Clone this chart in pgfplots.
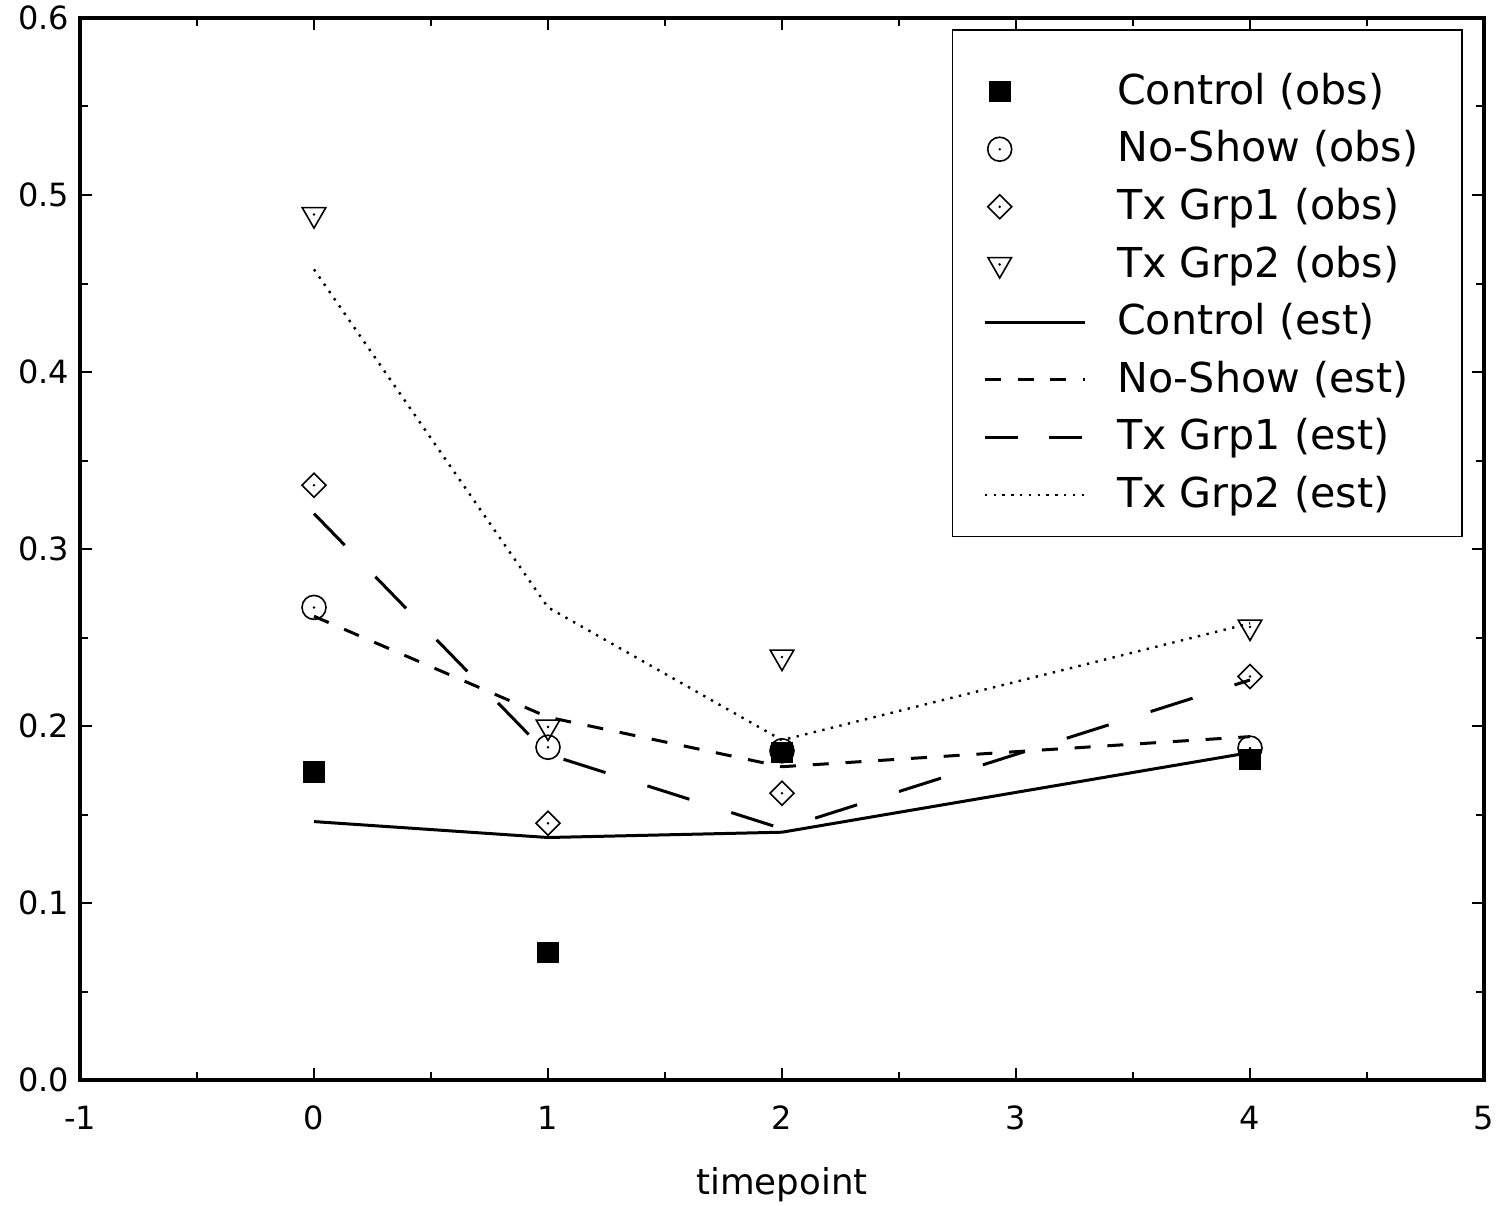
\documentclass[border=0pt]{standalone}
\usepackage{fontspec}
\setmainfont{DejaVu Sans}
\usepackage{pgfplots}
\pgfplotsset{compat=1.18}
\usepackage{pgfplotstable}

% observed proportions
\pgfplotstableread{
x    ctrl   noshow  grpone  grptwo
0    0.174  0.267   0.336   0.489
1    0.072  0.188   0.145   0.1995
2    0.185  0.186   0.162   0.239
4    0.181  0.1875  0.228   0.256
}\obs

% model estimates
\pgfplotstableread{
x    ctrl   noshow  grpone  grptwo
0    0.146  0.262   0.320   0.458
1    0.137  0.205   0.184   0.267
2    0.140  0.177   0.142   0.192
4    0.185  0.194   0.226   0.258
}\est

% open marks with a centre dot
\pgfdeclareplotmark{dcircle}{%
  \pgfpathcircle{\pgfpointorigin}{\pgfplotmarksize}\pgfusepathqstroke
  \pgfpathcircle{\pgfpointorigin}{0.35pt}\pgfusepathqfill}
\pgfdeclareplotmark{ddiamond}{%
  \pgfpathmoveto{\pgfqpoint{0pt}{\pgfplotmarksize}}%
  \pgfpathlineto{\pgfqpoint{\pgfplotmarksize}{0pt}}%
  \pgfpathlineto{\pgfqpoint{0pt}{-\pgfplotmarksize}}%
  \pgfpathlineto{\pgfqpoint{-\pgfplotmarksize}{0pt}}%
  \pgfpathclose\pgfusepathqstroke
  \pgfpathcircle{\pgfpointorigin}{0.35pt}\pgfusepathqfill}
\pgfdeclareplotmark{dtriangle}{%
  \pgfpathmoveto{\pgfqpoint{0pt}{-\pgfplotmarksize}}%
  \pgfpathlineto{\pgfqpoint{0.866\pgfplotmarksize}{0.5\pgfplotmarksize}}%
  \pgfpathlineto{\pgfqpoint{-0.866\pgfplotmarksize}{0.5\pgfplotmarksize}}%
  \pgfpathclose\pgfusepathqstroke
  \pgfpathcircle{\pgfpointorigin}{0.35pt}\pgfusepathqfill}

\pgfplotsset{
  obsleg/.style={legend image code/.code={%
    \draw[##1] plot coordinates {(3.75pt,0pt)}; \path (0pt,0pt) (25pt,0pt);}},
  lineleg/.style={legend image code/.code={%
    \draw[##1] (0pt,0pt) -- (25pt,0pt);}},
  longleg/.style={legend image code/.code={%
    \draw[##1, dash pattern=on 8.25pt off 7.75pt] (0pt,0pt) -- (25pt,0pt);}},
}

\newcommand\lt[1]{\makebox[78.5pt][l]{#1}}

\begin{document}
\begin{tikzpicture}
\begin{axis}[name=ax, scale only axis, width=351pt, height=265.5pt,
  xmin=-1, xmax=5, ymin=0, ymax=0.6,
  xtick={-1,0,...,5}, ytick={0,0.1,...,0.6},
  minor x tick num=1, minor y tick num=1,
  tick align=inside, major tick length=3pt, minor tick length=2pt,
  every tick/.style={black, line width=0.5pt},
  axis line style={line width=0.8pt},
  /pgf/number format/assume math mode=true,
  tick label style={font=\fontsize{8}{10}\selectfont},
  yticklabel style={/pgf/number format/fixed, /pgf/number format/fixed zerofill,
    /pgf/number format/precision=1, xshift=0.8pt},
  xticklabel style={yshift=-3pt},
  xlabel={timepoint},
  xlabel style={font=\fontsize{8.9}{10}\selectfont, yshift=-2.5pt},
  clip=false,
  legend style={name=leg, draw=none, at={(1,1)}, anchor=north east,
    xshift=-5.5pt, yshift=-5.5pt, font=\fontsize{10.3}{12}\selectfont,
    inner xsep=7.5pt, inner ysep=5.5pt, column sep=7.75pt, row sep=0pt,
    nodes={inner sep=0pt, minimum height=14.4pt}},
  legend cell align=left,
]
\addplot[only marks, mark=square*, mark size=2.5pt, obsleg] table[x=x, y=ctrl] {\obs};
\addplot[only marks, mark=dcircle, mark size=3pt, line width=0.4pt, obsleg] table[x=x, y=noshow] {\obs};
\addplot[only marks, mark=ddiamond, mark size=3pt, line width=0.4pt, obsleg] table[x=x, y=grpone] {\obs};
\addplot[only marks, mark=dtriangle, mark size=3.4pt, line width=0.4pt, obsleg] table[x=x, y=grptwo] {\obs};

\addplot[black, line width=0.75pt, mark=none, lineleg] table[x=x, y=ctrl] {\est};
\addplot[black, line width=0.75pt, mark=none, dash pattern=on 4pt off 4.2pt, lineleg] table[x=x, y=noshow] {\est};
\addplot[black, line width=0.75pt, mark=none, dash pattern=on 11pt off 11pt, longleg] table[x=x, y=grpone] {\est};
\addplot[black, line width=0.6pt, mark=none, dash pattern=on 0.6pt off 1.6pt, lineleg] table[x=x, y=grptwo] {\est};

\legend{\lt{Control (obs)}, \lt{No-Show (obs)}, \lt{Tx Grp1 (obs)}, \lt{Tx Grp2 (obs)},
  \lt{Control (est)}, \lt{No-Show (est)}, \lt{Tx Grp1 (est)}, \lt{Tx Grp2 (est)}}
\end{axis}
% legend frame sits 2.5pt higher than the entries
\draw[line width=0.4pt] ([yshift=2.5pt]leg.north west) rectangle ([yshift=2.5pt]leg.south east);
\pgfresetboundingbox
\path[use as bounding box] (ax.south west) ++(-20pt,-31.25pt) rectangle (ax.north east) ++(4.25pt,4.5pt);
\end{tikzpicture}
\end{document}
